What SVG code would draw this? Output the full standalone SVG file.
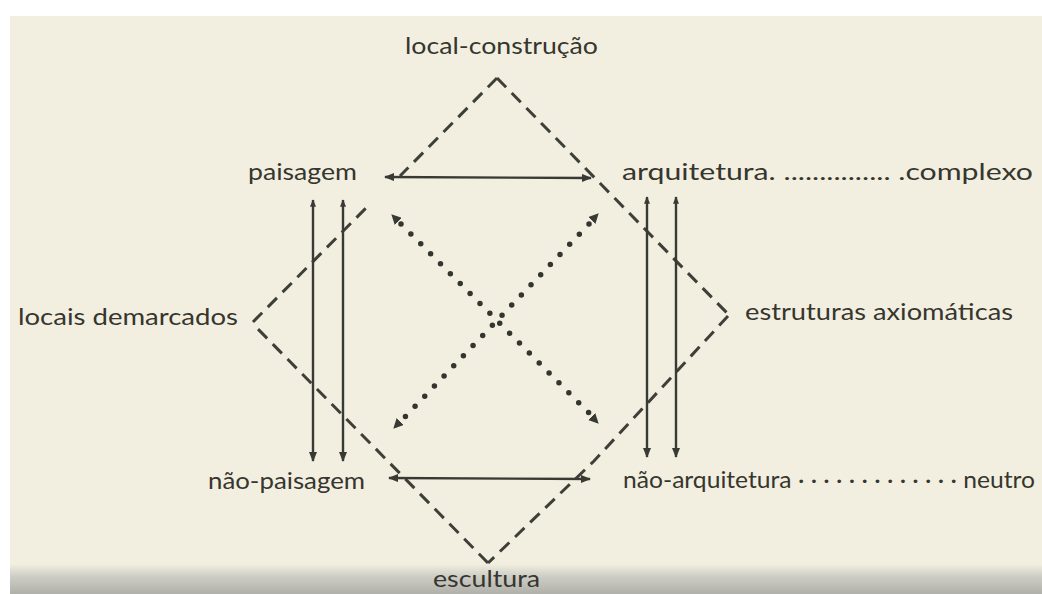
<svg xmlns="http://www.w3.org/2000/svg" width="1042" height="594" viewBox="0 0 1042 594">
  <defs>
    <linearGradient id="shade" x1="0" y1="0" x2="0" y2="1">
      <stop offset="0" stop-color="#f2efe0"/>
      <stop offset="0.4" stop-color="#cfcec6"/>
      <stop offset="1" stop-color="#b0b0aa"/>
    </linearGradient>
    <marker id="ah" viewBox="0 0 10 8" refX="9" refY="4" markerWidth="10" markerHeight="8" markerUnits="userSpaceOnUse" orient="auto-start-reverse">
      <path d="M0,0 L10,4 L0,8 z" fill="#3a3a35"/>
    </marker>
    <marker id="ahs" viewBox="0 0 10 8" refX="9" refY="4" markerWidth="8" markerHeight="6" markerUnits="userSpaceOnUse" orient="auto-start-reverse">
      <path d="M0,0 L10,4 L0,8 z" fill="#3a3a35"/>
    </marker>
    <marker id="ahd" viewBox="0 0 10 10" refX="9" refY="5" markerWidth="10" markerHeight="10" markerUnits="userSpaceOnUse" orient="auto-start-reverse">
      <path d="M0,0 L10,5 L0,10 z" fill="#3a3a35"/>
    </marker>
  </defs>
  <style>
    .lbl { font-family: Lato, "Liberation Sans", sans-serif; font-size: 24px; fill: #36362f; }
    .solid { stroke: #3a3a35; stroke-width: 2.4; fill: none; }
    .dash { stroke: #3f3f39; stroke-width: 3; fill: none; stroke-dasharray: 13 8; }
    .dot { stroke: #35352f; stroke-width: 5.5; fill: none; stroke-dasharray: 0 14; stroke-linecap: round; }
  </style>

  <rect x="0" y="0" width="1042" height="594" fill="#ffffff"/>
  <rect x="10" y="16" width="1032" height="578" fill="#f2efe0"/>
  <rect x="10" y="564" width="1032" height="30" fill="url(#shade)"/>

  <g id="connectors">
    <!-- dashed relations -->
    <line class="dash" x1="497" y1="78" x2="400" y2="176"/>
    <line class="dash" x1="497" y1="78" x2="728" y2="314"/>
    <polyline class="dash" points="728,316 594,461 488,563"/>
    <line class="dash" x1="488" y1="563" x2="253" y2="324"/>
    <line class="dash" x1="253" y1="322" x2="367" y2="207"/>

    <!-- solid horizontal arrows -->
    <line class="solid" x1="385" y1="177" x2="591" y2="178" marker-start="url(#ah)" marker-end="url(#ah)"/>
    <line class="solid" x1="389" y1="478" x2="590" y2="479" marker-start="url(#ah)" marker-end="url(#ah)"/>

    <!-- solid vertical arrows -->
    <line class="solid" x1="313" y1="200" x2="313" y2="461" marker-start="url(#ahs)" marker-end="url(#ah)"/>
    <line class="solid" x1="343" y1="200" x2="343" y2="461" marker-start="url(#ahs)" marker-end="url(#ah)"/>
    <line class="solid" x1="647" y1="197" x2="647" y2="457" marker-start="url(#ahs)" marker-end="url(#ah)"/>
    <line class="solid" x1="676" y1="197" x2="676" y2="457" marker-start="url(#ahs)" marker-end="url(#ah)"/>

    <!-- dotted diagonals -->
    <line class="dot" x1="401" y1="224" x2="589" y2="413"/>
    <line stroke="none" x1="392" y1="215" x2="598" y2="423" marker-start="url(#ahd)" marker-end="url(#ahd)"/>
    <line class="dot" x1="589" y1="224" x2="404" y2="418"/>
    <line stroke="none" x1="598" y1="214" x2="394" y2="428" marker-start="url(#ahd)" marker-end="url(#ahd)"/>
  </g>

  <g id="node-local-construcao">
    <text class="lbl" x="405" y="54" textLength="193" lengthAdjust="spacingAndGlyphs">local-construção</text>
  </g>
  <g id="node-paisagem">
    <text class="lbl" x="248" y="180" textLength="109" lengthAdjust="spacingAndGlyphs">paisagem</text>
  </g>
  <g id="node-arquitetura">
    <text class="lbl" x="622" y="180" textLength="411" lengthAdjust="spacingAndGlyphs">arquitetura. ............... .complexo</text>
  </g>
  <g id="node-locais-demarcados">
    <text class="lbl" x="18" y="325" textLength="220" lengthAdjust="spacingAndGlyphs">locais demarcados</text>
  </g>
  <g id="node-estruturas-axiomaticas">
    <text class="lbl" x="745" y="320" textLength="268" lengthAdjust="spacingAndGlyphs">estruturas axiomáticas</text>
  </g>
  <g id="node-nao-paisagem">
    <text class="lbl" x="208" y="489" textLength="157" lengthAdjust="spacingAndGlyphs">não-paisagem</text>
  </g>
  <g id="node-nao-arquitetura">
    <text class="lbl" x="623" y="488" textLength="412" lengthAdjust="spacingAndGlyphs">não-arquitetura · · · · · · · · · · · · · neutro</text>
  </g>
  <g id="node-escultura">
    <text class="lbl" x="433" y="587" textLength="107" lengthAdjust="spacingAndGlyphs">escultura</text>
  </g>
</svg>
